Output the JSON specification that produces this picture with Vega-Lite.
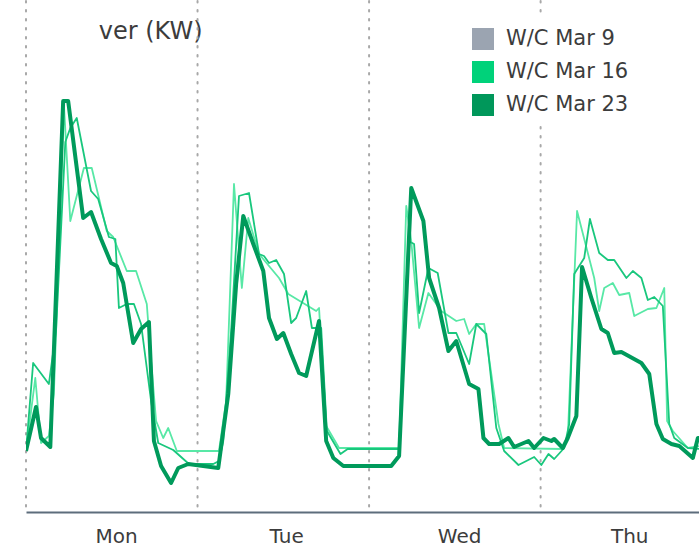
{
"$schema": "https://vega.github.io/schema/vega-lite/v6.json",
"width": 674, "height": 511,
"padding": {"left": 25, "top": 0, "right": 0, "bottom": 0},
"autosize": {"type": "pad"},
"background": "white",
"config": {"view": {"stroke": null}, "font": "DejaVu Sans"},
"datasets": {
"days": [{"t": 0}, {"t": 24}, {"t": 48}, {"t": 72}],
"power": [
{"series":"W/C Mar 9","t":0,"kw":61},{"series":"W/C Mar 9","t":1.3,"kw":134},{"series":"W/C Mar 9","t":2.1,"kw":69},{"series":"W/C Mar 9","t":3.2,"kw":76},{"series":"W/C Mar 9","t":3.9,"kw":118},{"series":"W/C Mar 9","t":4.6,"kw":261},{"series":"W/C Mar 9","t":5.3,"kw":408},{"series":"W/C Mar 9","t":6.2,"kw":291},{"series":"W/C Mar 9","t":8.1,"kw":344},{"series":"W/C Mar 9","t":9.2,"kw":344},{"series":"W/C Mar 9","t":11.3,"kw":281},{"series":"W/C Mar 9","t":12.2,"kw":275},{"series":"W/C Mar 9","t":14.1,"kw":241},{"series":"W/C Mar 9","t":15.4,"kw":241},{"series":"W/C Mar 9","t":16.9,"kw":208},{"series":"W/C Mar 9","t":17.5,"kw":151},{"series":"W/C Mar 9","t":18.2,"kw":91},{"series":"W/C Mar 9","t":19.2,"kw":74},{"series":"W/C Mar 9","t":19.9,"kw":84},{"series":"W/C Mar 9","t":21.1,"kw":61},{"series":"W/C Mar 9","t":27.0,"kw":61},{"series":"W/C Mar 9","t":28.0,"kw":111},{"series":"W/C Mar 9","t":29.1,"kw":328},{"series":"W/C Mar 9","t":30.2,"kw":224},{"series":"W/C Mar 9","t":31.1,"kw":294},{"series":"W/C Mar 9","t":32.6,"kw":258},{"series":"W/C Mar 9","t":35.4,"kw":234},{"series":"W/C Mar 9","t":36.7,"kw":218},{"series":"W/C Mar 9","t":40.6,"kw":201},{"series":"W/C Mar 9","t":41.0,"kw":204},{"series":"W/C Mar 9","t":42.0,"kw":86},{"series":"W/C Mar 9","t":43.8,"kw":64},{"series":"W/C Mar 9","t":52.2,"kw":64},{"series":"W/C Mar 9","t":53.2,"kw":306},{"series":"W/C Mar 9","t":53.9,"kw":271},{"series":"W/C Mar 9","t":55.0,"kw":184},{"series":"W/C Mar 9","t":56.3,"kw":219},{"series":"W/C Mar 9","t":58.1,"kw":201},{"series":"W/C Mar 9","t":60.2,"kw":191},{"series":"W/C Mar 9","t":61.3,"kw":193},{"series":"W/C Mar 9","t":62.0,"kw":178},{"series":"W/C Mar 9","t":63.0,"kw":188},{"series":"W/C Mar 9","t":64.1,"kw":188},{"series":"W/C Mar 9","t":65.1,"kw":138},{"series":"W/C Mar 9","t":66.1,"kw":88},{"series":"W/C Mar 9","t":66.9,"kw":64},{"series":"W/C Mar 9","t":75.1,"kw":63},{"series":"W/C Mar 9","t":75.8,"kw":74},{"series":"W/C Mar 9","t":77.1,"kw":301},{"series":"W/C Mar 9","t":79.5,"kw":234},{"series":"W/C Mar 9","t":80.2,"kw":201},{"series":"W/C Mar 9","t":80.9,"kw":224},{"series":"W/C Mar 9","t":82.1,"kw":229},{"series":"W/C Mar 9","t":83.0,"kw":217},{"series":"W/C Mar 9","t":84.4,"kw":219},{"series":"W/C Mar 9","t":85.1,"kw":196},{"series":"W/C Mar 9","t":87.0,"kw":203},{"series":"W/C Mar 9","t":88.2,"kw":204},{"series":"W/C Mar 9","t":89.3,"kw":224},{"series":"W/C Mar 9","t":89.7,"kw":91},{"series":"W/C Mar 9","t":90.5,"kw":81},{"series":"W/C Mar 9","t":92.6,"kw":64},{"series":"W/C Mar 9","t":94.3,"kw":66},{"series":"W/C Mar 9","t":95,"kw":66},
{"series":"W/C Mar 16","t":0,"kw":61},{"series":"W/C Mar 16","t":1.0,"kw":149},{"series":"W/C Mar 16","t":3.2,"kw":128},{"series":"W/C Mar 16","t":4.2,"kw":181},{"series":"W/C Mar 16","t":5.5,"kw":370},{"series":"W/C Mar 16","t":6.2,"kw":384},{"series":"W/C Mar 16","t":7.1,"kw":394},{"series":"W/C Mar 16","t":9.1,"kw":321},{"series":"W/C Mar 16","t":10.1,"kw":313},{"series":"W/C Mar 16","t":11.6,"kw":275},{"series":"W/C Mar 16","t":12.5,"kw":273},{"series":"W/C Mar 16","t":13.0,"kw":204},{"series":"W/C Mar 16","t":14.1,"kw":208},{"series":"W/C Mar 16","t":15.1,"kw":208},{"series":"W/C Mar 16","t":16.1,"kw":188},{"series":"W/C Mar 16","t":17.5,"kw":111},{"series":"W/C Mar 16","t":18.5,"kw":69},{"series":"W/C Mar 16","t":20.6,"kw":62},{"series":"W/C Mar 16","t":22.8,"kw":48},{"series":"W/C Mar 16","t":26.2,"kw":48},{"series":"W/C Mar 16","t":27.0,"kw":51},{"series":"W/C Mar 16","t":27.6,"kw":71},{"series":"W/C Mar 16","t":28.7,"kw":181},{"series":"W/C Mar 16","t":29.8,"kw":316},{"series":"W/C Mar 16","t":31.2,"kw":319},{"series":"W/C Mar 16","t":32.6,"kw":258},{"series":"W/C Mar 16","t":33.3,"kw":256},{"series":"W/C Mar 16","t":34.0,"kw":249},{"series":"W/C Mar 16","t":35.0,"kw":252},{"series":"W/C Mar 16","t":36.1,"kw":238},{"series":"W/C Mar 16","t":37.1,"kw":189},{"series":"W/C Mar 16","t":37.8,"kw":194},{"series":"W/C Mar 16","t":39.2,"kw":221},{"series":"W/C Mar 16","t":40.0,"kw":184},{"series":"W/C Mar 16","t":41.3,"kw":184},{"series":"W/C Mar 16","t":42.1,"kw":81},{"series":"W/C Mar 16","t":44.0,"kw":58},{"series":"W/C Mar 16","t":45.0,"kw":63},{"series":"W/C Mar 16","t":52.2,"kw":63},{"series":"W/C Mar 16","t":53.5,"kw":271},{"series":"W/C Mar 16","t":54.3,"kw":268},{"series":"W/C Mar 16","t":55.0,"kw":199},{"series":"W/C Mar 16","t":56.3,"kw":244},{"series":"W/C Mar 16","t":57.6,"kw":239},{"series":"W/C Mar 16","t":59.1,"kw":179},{"series":"W/C Mar 16","t":60.2,"kw":179},{"series":"W/C Mar 16","t":62.0,"kw":148},{"series":"W/C Mar 16","t":63.0,"kw":188},{"series":"W/C Mar 16","t":64.4,"kw":178},{"series":"W/C Mar 16","t":65.8,"kw":84},{"series":"W/C Mar 16","t":66.9,"kw":61},{"series":"W/C Mar 16","t":68.9,"kw":47},{"series":"W/C Mar 16","t":71.1,"kw":55},{"series":"W/C Mar 16","t":72.1,"kw":47},{"series":"W/C Mar 16","t":73.1,"kw":58},{"series":"W/C Mar 16","t":73.9,"kw":53},{"series":"W/C Mar 16","t":75.3,"kw":64},{"series":"W/C Mar 16","t":76.0,"kw":88},{"series":"W/C Mar 16","t":76.7,"kw":238},{"series":"W/C Mar 16","t":78.1,"kw":254},{"series":"W/C Mar 16","t":78.9,"kw":293},{"series":"W/C Mar 16","t":80.2,"kw":259},{"series":"W/C Mar 16","t":81.4,"kw":252},{"series":"W/C Mar 16","t":82.3,"kw":252},{"series":"W/C Mar 16","t":84.0,"kw":234},{"series":"W/C Mar 16","t":84.9,"kw":241},{"series":"W/C Mar 16","t":86.1,"kw":234},{"series":"W/C Mar 16","t":87.0,"kw":212},{"series":"W/C Mar 16","t":87.9,"kw":215},{"series":"W/C Mar 16","t":89.1,"kw":206},{"series":"W/C Mar 16","t":90.0,"kw":88},{"series":"W/C Mar 16","t":90.7,"kw":74},{"series":"W/C Mar 16","t":92.6,"kw":64},{"series":"W/C Mar 16","t":94.3,"kw":63},{"series":"W/C Mar 16","t":95,"kw":63},
{"series":"W/C Mar 23","t":0,"kw":61},{"series":"W/C Mar 23","t":1.4,"kw":105},{"series":"W/C Mar 23","t":2.1,"kw":74},{"series":"W/C Mar 23","t":3.4,"kw":65},{"series":"W/C Mar 23","t":5.2,"kw":411},{"series":"W/C Mar 23","t":5.9,"kw":411},{"series":"W/C Mar 23","t":8.0,"kw":294},{"series":"W/C Mar 23","t":9.1,"kw":300},{"series":"W/C Mar 23","t":10.5,"kw":273},{"series":"W/C Mar 23","t":11.9,"kw":249},{"series":"W/C Mar 23","t":12.7,"kw":246},{"series":"W/C Mar 23","t":13.6,"kw":229},{"series":"W/C Mar 23","t":15.0,"kw":169},{"series":"W/C Mar 23","t":16.1,"kw":183},{"series":"W/C Mar 23","t":17.2,"kw":190},{"series":"W/C Mar 23","t":17.9,"kw":71},{"series":"W/C Mar 23","t":18.9,"kw":46},{"series":"W/C Mar 23","t":20.3,"kw":29},{"series":"W/C Mar 23","t":21.3,"kw":44},{"series":"W/C Mar 23","t":22.7,"kw":48},{"series":"W/C Mar 23","t":26.9,"kw":44},{"series":"W/C Mar 23","t":28.3,"kw":118},{"series":"W/C Mar 23","t":29.4,"kw":228},{"series":"W/C Mar 23","t":30.4,"kw":296},{"series":"W/C Mar 23","t":31.8,"kw":268},{"series":"W/C Mar 23","t":33.2,"kw":241},{"series":"W/C Mar 23","t":34.0,"kw":194},{"series":"W/C Mar 23","t":35.1,"kw":173},{"series":"W/C Mar 23","t":36.0,"kw":179},{"series":"W/C Mar 23","t":37.1,"kw":158},{"series":"W/C Mar 23","t":38.2,"kw":139},{"series":"W/C Mar 23","t":39.2,"kw":136},{"series":"W/C Mar 23","t":41.0,"kw":191},{"series":"W/C Mar 23","t":42.0,"kw":71},{"series":"W/C Mar 23","t":43.0,"kw":54},{"series":"W/C Mar 23","t":44.4,"kw":46},{"series":"W/C Mar 23","t":51.1,"kw":46},{"series":"W/C Mar 23","t":52.2,"kw":56},{"series":"W/C Mar 23","t":53.9,"kw":324},{"series":"W/C Mar 23","t":55.6,"kw":291},{"series":"W/C Mar 23","t":56.4,"kw":234},{"series":"W/C Mar 23","t":57.8,"kw":204},{"series":"W/C Mar 23","t":59.1,"kw":161},{"series":"W/C Mar 23","t":60.2,"kw":171},{"series":"W/C Mar 23","t":62.0,"kw":128},{"series":"W/C Mar 23","t":63.3,"kw":123},{"series":"W/C Mar 23","t":64.0,"kw":74},{"series":"W/C Mar 23","t":64.8,"kw":68},{"series":"W/C Mar 23","t":66.2,"kw":68},{"series":"W/C Mar 23","t":67.5,"kw":74},{"series":"W/C Mar 23","t":68.3,"kw":65},{"series":"W/C Mar 23","t":70.3,"kw":71},{"series":"W/C Mar 23","t":71.1,"kw":64},{"series":"W/C Mar 23","t":72.4,"kw":74},{"series":"W/C Mar 23","t":73.5,"kw":71},{"series":"W/C Mar 23","t":73.9,"kw":73},{"series":"W/C Mar 23","t":75.1,"kw":64},{"series":"W/C Mar 23","t":75.8,"kw":74},{"series":"W/C Mar 23","t":77.0,"kw":96},{"series":"W/C Mar 23","t":77.8,"kw":245},{"series":"W/C Mar 23","t":79.1,"kw":214},{"series":"W/C Mar 23","t":80.5,"kw":183},{"series":"W/C Mar 23","t":81.4,"kw":179},{"series":"W/C Mar 23","t":82.3,"kw":159},{"series":"W/C Mar 23","t":83.3,"kw":160},{"series":"W/C Mar 23","t":86.1,"kw":149},{"series":"W/C Mar 23","t":87.2,"kw":138},{"series":"W/C Mar 23","t":88.2,"kw":88},{"series":"W/C Mar 23","t":89.1,"kw":73},{"series":"W/C Mar 23","t":90.3,"kw":68},{"series":"W/C Mar 23","t":91.4,"kw":66},{"series":"W/C Mar 23","t":93.3,"kw":54},{"series":"W/C Mar 23","t":94.0,"kw":74},{"series":"W/C Mar 23","t":95,"kw":74}
]
},
"layer": [
{
"data": {"name": "days"},
"mark": {"type": "rule", "strokeDash": [1.5, 7.5], "color": "#a8a8a8", "strokeWidth": 2, "strokeCap": "round"},
"encoding": {
"x": {"field": "t", "type": "quantitative", "scale": {"domain": [0, 94.3], "nice": false, "zero": false},
"axis": {"title": null, "values": [12.6, 36.4, 60.6, 84.4], "labelExpr": "datum.value < 24 ? 'Mon' : datum.value < 48 ? 'Tue' : datum.value < 72 ? 'Wed' : 'Thu'", "ticks": false, "tickSize": 0, "grid": false, "domainColor": "#5d6d7c", "domainWidth": 2, "labelFontSize": 20, "labelFont": "DejaVu Sans", "labelColor": "#3c3c3c", "labelPadding": 14, "labelFlush": false}}
}
},
{
"data": {"name": "power"},
"layer": [
{
"transform": [{"filter": "datum.series == 'W/C Mar 9'"}],
"mark": {"type": "line", "color": "#58e8a6", "strokeWidth": 1.8, "strokeJoin": "round", "clip": true},
"encoding": {
"x": {"field": "t", "type": "quantitative"},
"y": {"field": "kw", "type": "quantitative", "scale": {"domain": [0, 511], "nice": false},
"axis": {"title": "ver (KW)", "labels": false, "ticks": false, "domain": false, "grid": false, "minExtent": 0, "titleAngle": 0, "titleAlign": "right", "titleBaseline": "alphabetic", "titleX": 176, "titleY": 37, "titleFontSize": 24, "titleFontWeight": "normal", "titleColor": "#3c3c3c", "titleFont": "DejaVu Sans"}}
}
},
{
"transform": [{"filter": "datum.series == 'W/C Mar 16'"}],
"mark": {"type": "line", "color": "#19c77d", "strokeWidth": 1.8, "strokeJoin": "round", "clip": true},
"encoding": {
"x": {"field": "t", "type": "quantitative"},
"y": {"field": "kw", "type": "quantitative"}
}
},
{
"transform": [{"filter": "datum.series == 'W/C Mar 23'"}],
"mark": {"type": "line", "color": "#009a5b", "strokeWidth": 4, "strokeJoin": "round", "clip": true},
"encoding": {
"x": {"field": "t", "type": "quantitative"},
"y": {"field": "kw", "type": "quantitative"}
}
},
{
"mark": {"type": "point", "filled": true, "opacity": 0, "shape": "square", "clip": true},
"encoding": {
"x": {"field": "t", "type": "quantitative"},
"y": {"field": "kw", "type": "quantitative"},
"fill": {"field": "series", "type": "nominal",
"scale": {"domain": ["W/C Mar 9", "W/C Mar 16", "W/C Mar 23"], "range": ["#9ba4b1", "#00d27a", "#00975a"]},
"legend": {"title": null, "orient": "none", "legendX": 436, "legendY": 17, "symbolType": "square", "symbolSize": 484, "symbolOpacity": 1, "symbolStrokeWidth": 0, "labelFontSize": 21, "labelFont": "DejaVu Sans", "labelColor": "#3c3c3c", "labelOffset": 12, "rowPadding": 11, "padding": 10, "fillColor": "white", "labelLimit": 0}}
}
}
]
}
]
}
